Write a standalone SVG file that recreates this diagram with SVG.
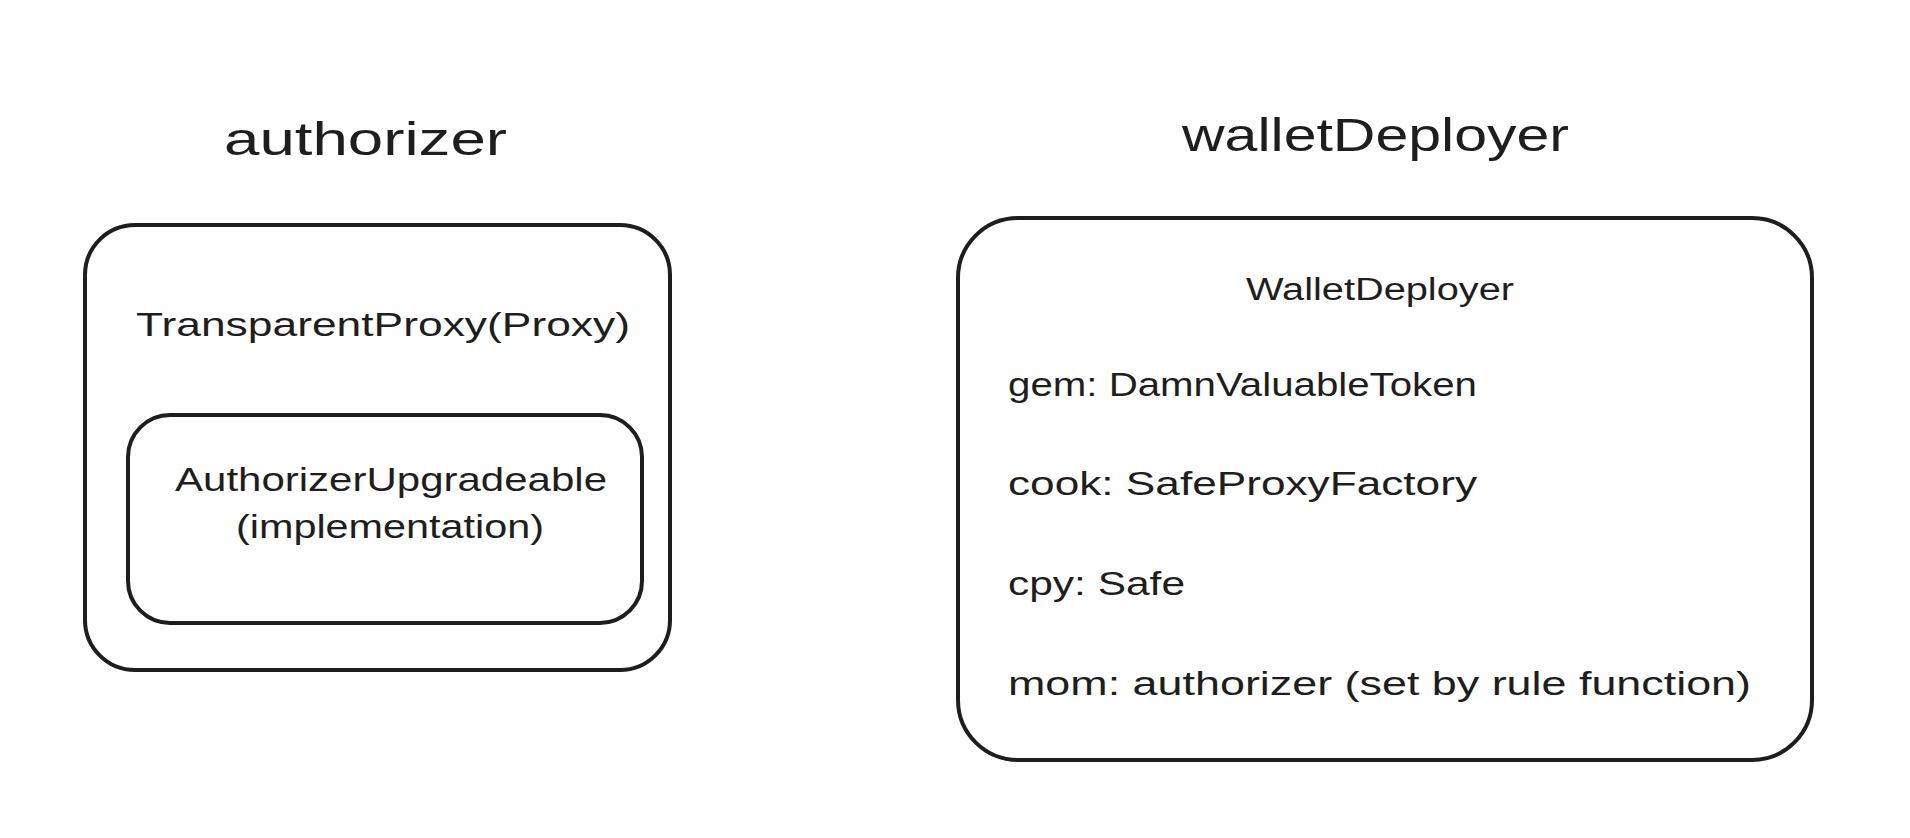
<svg xmlns="http://www.w3.org/2000/svg" width="1910" height="838" viewBox="0 0 1910 838">
  <style>
    .box { fill: none; stroke: #1e1e1e; stroke-width: 4; stroke-linejoin: round; }
    .title { font-family: "Liberation Sans", Arial, sans-serif; font-size: 46px; fill: #1e1e1e; }
    .label { font-family: "Liberation Sans", Arial, sans-serif; font-size: 34px; fill: #1e1e1e; }
    .small { font-family: "Liberation Sans", Arial, sans-serif; font-size: 31px; fill: #1e1e1e; }
  </style>
  <rect x="0" y="0" width="1910" height="838" fill="#ffffff"/>

  <g id="authorizer">
    <text class="title" x="224" y="155" textLength="283" lengthAdjust="spacingAndGlyphs">authorizer</text>
    <rect class="box" x="85" y="225" width="585" height="445" rx="50" ry="50"/>
    <text class="label" x="136" y="336" textLength="494" lengthAdjust="spacingAndGlyphs">TransparentProxy(Proxy)</text>
  </g>

  <g id="authorizerUpgradeable">
    <rect class="box" x="128" y="415" width="514" height="208" rx="42" ry="42"/>
    <text class="label" x="175" y="491" textLength="432" lengthAdjust="spacingAndGlyphs">AuthorizerUpgradeable</text>
    <text class="label" x="236" y="538" textLength="308" lengthAdjust="spacingAndGlyphs">(implementation)</text>
  </g>

  <g id="walletDeployer">
    <text class="title" x="1182" y="151" textLength="387" lengthAdjust="spacingAndGlyphs">walletDeployer</text>
    <rect class="box" x="958" y="218" width="854" height="542" rx="60" ry="60"/>
    <text class="small" x="1246" y="300" textLength="268" lengthAdjust="spacingAndGlyphs">WalletDeployer</text>
    <text class="label" x="1008" y="396" textLength="469" lengthAdjust="spacingAndGlyphs">gem: DamnValuableToken</text>
    <text class="label" x="1008" y="495" textLength="469" lengthAdjust="spacingAndGlyphs">cook: SafeProxyFactory</text>
    <text class="label" x="1008" y="595" textLength="177" lengthAdjust="spacingAndGlyphs">cpy: Safe</text>
    <text class="label" x="1008" y="695" textLength="743" lengthAdjust="spacingAndGlyphs">mom: authorizer (set by rule function)</text>
  </g>

  <g id="connectors"></g>
</svg>
